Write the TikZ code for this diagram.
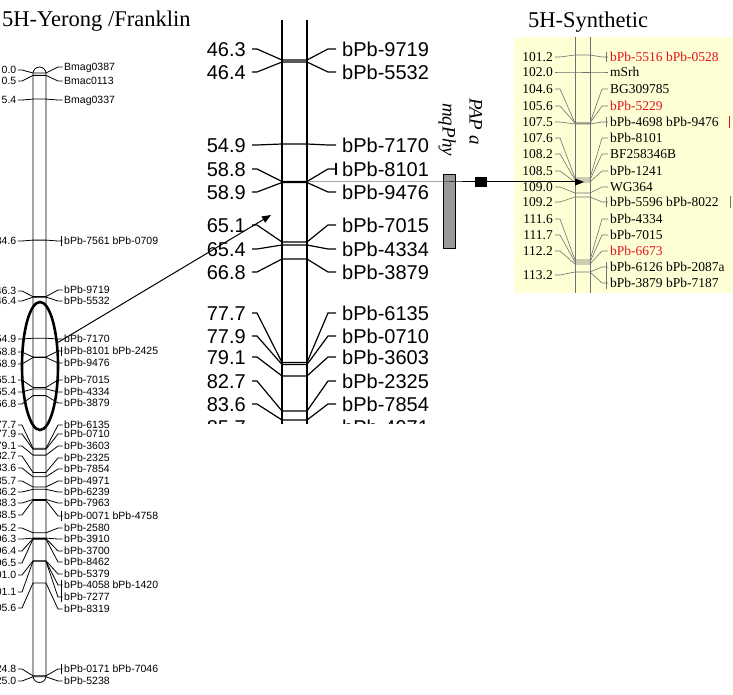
\documentclass[tikz,border=0pt]{standalone}
\usepackage{fontspec}
\usetikzlibrary{arrows.meta}
\newfontfamily\hv{Liberation Sans}
\newfontfamily\tm{Liberation Serif}
\definecolor{mapbg}{HTML}{FFFFD6}
\definecolor{mapred}{HTML}{E3141C}
\definecolor{mapline}{HTML}{707070}
\definecolor{qtlgray}{HTML}{999999}
\begin{document}
\begin{tikzpicture}[x=1pt,y=-1pt,
  lnum/.style={font=\hv\fontsize{10.5}{10.5}\selectfont, anchor=east, inner sep=0pt, text height=7.5pt, text depth=0pt},
  llab/.style={font=\hv\fontsize{10.5}{10.5}\selectfont, anchor=west, inner sep=0pt, text height=7.5pt, text depth=0pt},
  lline/.style={line width=0.8pt},
  cnum/.style={font=\hv\fontsize{20}{20}\selectfont, anchor=east, inner sep=0pt, text height=14.3pt, text depth=0pt},
  clab/.style={font=\hv\fontsize{20}{20}\selectfont, anchor=west, inner sep=0pt, text height=14.3pt, text depth=0pt},
  cline/.style={line width=1.2pt},
  rnum/.style={font=\tm\fontsize{13.5}{13.5}\selectfont, anchor=east, inner sep=0pt, text height=9pt, text depth=0pt},
  rlab/.style={font=\tm\fontsize{13.5}{13.5}\selectfont, anchor=west, inner sep=0pt, text height=9pt, text depth=0pt},
  rline/.style={line width=0.6pt, draw=mapline},
  title/.style={font=\tm\fontsize{22.5}{22.5}\selectfont, anchor=base west, inner sep=0pt},
  qtl/.style={font=\tm\itshape\fontsize{19}{19}\selectfont, rotate=-90, anchor=west, inner sep=0pt, text height=13pt, text depth=0pt}
]
\useasboundingbox (0,0) rectangle (733,695);
\clip (0,0) rectangle (733,695);

% ---------------- titles
\node[title] (t1) at (2,27) {5H-Yerong /Franklin};
\node[title] (t2) at (528,28) {5H-Synthetic};

% ---------------- left chromosome
\draw[lline] (33,676) -- (33,73.5) arc[start angle=180,end angle=360,radius=6.5]
  -- (46,676) arc[start angle=0,end angle=180,radius=6.5];
\foreach \t/\y/\p [count=\i] in {0.0/70/73, 0.5/81/75.4, 5.4/100/99.1, 34.6/241/240.1,
  46.3/291/296.6, 46.4/301/297.1, 54.9/339/338.2, 58.8/352/357, 58.9/364/357.5,
  65.1/380/387.4, 65.4/392/388.9, 66.8/404/395.6, 77.7/425/448.3, 77.9/434/449.3,
  79.1/446/455.1, 82.7/456/472.4, 83.6/468/476.8, 85.7/481/486.9, 86.2/492/489.3,
  88.3/503/499.5, 88.5/515/500.5, 95.2/528/532.8, 96.3/539/538.1, 96.4/551/538.6,
  96.5/563/539.1, 101.0/575/560.8, 101.1/592/561.3, 105.6/608/583, 124.8/669/675.8,
  125.0/681/676.8}{
  \node[lnum] (ln\i) at (16.5,\y) {\t};
  \draw[lline] (ln\i.east) ++(1.5,0) -- ++(4,0) -- (33,\p) -- (46,\p);
}
\foreach \t/\y/\p [count=\i] in {Bmag0387/67/73, Bmac0113/81/75.4, Bmag0337/100/99.1,
  {bPb-7561 bPb-0709}/241/240.1, bPb-9719/290/296.6, bPb-5532/301/297.1,
  bPb-7170/339/338.2, {bPb-8101 bPb-2425}/351/357, bPb-9476/363/357.5,
  bPb-7015/380/387.4, bPb-4334/392/388.9, bPb-3879/403/395.6, bPb-6135/425/448.3,
  bPb-0710/434/449.3, bPb-3603/446/455.1, bPb-2325/458/472.4, bPb-7854/469/476.8,
  bPb-4971/481/486.9, bPb-6239/492/489.3, bPb-7963/503/499.5,
  {bPb-0071 bPb-4758}/516/500.5, bPb-2580/528/532.8, bPb-3910/539/538.1,
  bPb-3700/551/538.6, bPb-8462/562/539.1, bPb-5379/574/560.8,
  {bPb-4058 bPb-1420}/585/561.3, bPb-7277/597/561.3, bPb-8319/609/583,
  {bPb-0171 bPb-7046}/669/675.8, bPb-5238/681/676.8}{
  \node[llab] (ll\i) at (64,\y) {\t};
  \draw[lline] (46,\p) -- (58,\y) -- ([xshift=-1.5pt]ll\i.west);
}
% brackets (several markers at one position)
\draw[lline] (61.5,236) -- (61.5,246);
\draw[lline] (61.5,347) -- (61.5,356);
\draw[lline] (61.5,511) -- (61.5,521);
\draw[lline] (61.5,580) -- (61.5,602);
\draw[lline] (61.5,664) -- (61.5,674);
% highlighted region
\draw[line width=2.6pt] (40,366) ellipse [x radius=18, y radius=64];
\coordinate (ellR) at (57,343);

% ---------------- centre chromosome (cropped view)
\begin{scope}
\clip (195,0) rectangle (500,423);
\draw[cline] (282,20) -- (282,430);
\draw[cline] (307,20) -- (307,430);
\foreach \t/\y/\p [count=\i] in {46.3/49/60, 46.4/72/62, 54.9/145/144, 58.8/169/181.5,
  58.9/192/182.5, 65.1/225/242, 65.4/249/245, 66.8/272/259, 77.7/313/362.5,
  77.9/336/364.5, 79.1/357/376, 82.7/381/411, 83.6/404/420, 85.7/427/441}{
  \node[cnum] (cn\i) at (246,\y) {\t};
  \draw[cline] (cn\i.east) ++(6,0) -- ++(5,0) -- (282,\p) -- (307,\p);
}
\foreach \t/\y/\p [count=\i] in {bPb-9719/49/60, bPb-5532/72/62, bPb-7170/145/144,
  bPb-8101/169/181.5, bPb-9476/192/182.5, bPb-7015/225/242, bPb-4334/249/245,
  bPb-3879/272/259, bPb-6135/313/362.5, bPb-0710/336/364.5, bPb-3603/357/376,
  bPb-2325/381/411, bPb-7854/404/420, bPb-4971/427/441}{
  \node[clab] (cl\i) at (342,\y) {\t};
  \draw[cline] (307,\p) -- (328,\y) -- ([xshift=-6pt]cl\i.west);
}
\draw[cline] (336,163) -- (336,175);
\end{scope}
\coordinate (cTarget) at (271,215);
\coordinate (cMark) at (307,182);

% arrow from the highlighted region to the centre map
\draw[line width=1pt, -{Triangle[length=9pt,width=7pt]}] (ellR) -- (cTarget);

% ---------------- QTL bar and marker
\node[draw=black, fill=qtlgray, line width=0.8pt, minimum width=12pt, minimum height=74pt, inner sep=0pt] (qbar) at (449,211) {};
\node[qtl] (qname) at (449,103) {mqPhy};
\node[qtl] (paname) at (476,98) {PAP a};
\node[fill=black, minimum width=12pt, minimum height=10pt, inner sep=0pt] (qsq) at (481,182) {};

% ---------------- right (synthetic) map
\fill[mapbg] (514,37) rectangle (733,293);
\draw[rline] (575,37) -- (575,293);
\draw[rline] (590,37) -- (590,293);
\foreach \t/\y/\p [count=\i] in {101.2/57/55, 102.0/72/72, 104.6/89/123, 105.6/106/123,
  107.5/122/124, 107.6/138/178, 108.2/154/180, 108.5/171/182, 109.0/187/193,
  109.2/202/197, 111.6/219/260, 111.7/235/262, 112.2/251/264, 113.2/275/272}{
  \node[rnum] (rn\i) at (553,\y) {\t};
  \draw[rline] (rn\i.east) ++(2,0) -- ++(5,0) -- (575,\p) -- (590,\p);
}
\foreach \t/\y/\p/\c [count=\i] in {{bPb-5516 bPb-0528}/57/55/mapred, mSrh/72/72/black,
  BG309785/89/123/black, bPb-5229/106/123/mapred, {bPb-4698 bPb-9476}/122/124/black,
  bPb-8101/138/178/black, BF258346B/154/180/black, bPb-1241/171/182/black,
  WG364/187/193/black, {bPb-5596 bPb-8022}/202/197/black, bPb-4334/219/260/black,
  bPb-7015/235/262/black, bPb-6673/251/264/mapred, {bPb-6126 bPb-2087a}/267/272/black,
  {bPb-3879 bPb-7187}/283/272/black}{
  \node[rlab, text=\c] (rl\i) at (610,\y) {\t};
  \draw[rline] (590,\p) -- (602,\y) -- ([xshift=-2pt]rl\i.west);
}
\draw[rline] (606,52) -- (606,62);
\draw[rline] (606,117) -- (606,127);
\draw[rline] (606,197) -- (606,207);
\draw[rline] (606,262) -- (606,289);
\draw[mapred, line width=0.9pt] (729,116) -- (729,128);
\draw[rline] (730,196) -- (730,208);

% horizontal link from the centre map to the synthetic map
\draw[line width=1pt, -{Triangle[length=9pt,width=7pt]}] (cMark) -- (qbar.center |- cMark) -- (qsq) -- (584,182);
\end{tikzpicture}
\end{document}
